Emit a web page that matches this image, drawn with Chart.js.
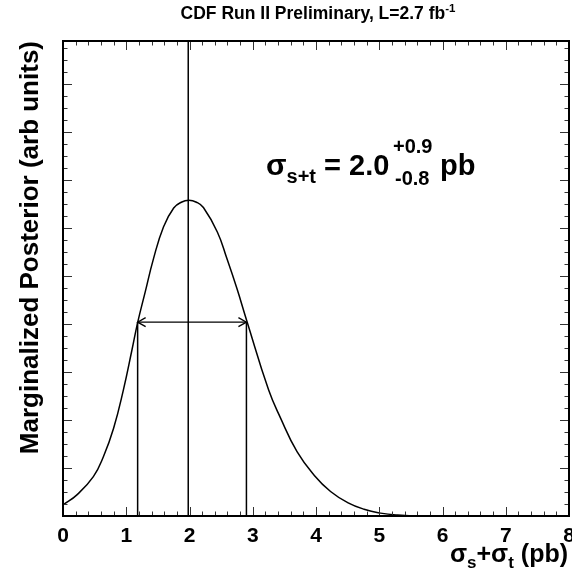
<!DOCTYPE html>
<html>
<head>
<meta charset="utf-8">
<script src="https://cdn.jsdelivr.net/npm/chart.js@4.4.0/dist/chart.umd.min.js"></script>
<style>
  html, body { margin: 0; padding: 0; background: #fff; }
</style>
</head>
<body>
<canvas id="myChart" width="572" height="569"></canvas>
<script>
// posterior curve (x in pb, y in arb units)
const curveX = [0, 0.22, 0.48, 0.64, 0.80, 0.955, 1.09, 1.18, 1.30, 1.43, 1.59, 1.75, 1.87, 1.99,
  2.11, 2.22, 2.44, 2.59, 2.75, 2.91, 3.25, 3.44, 3.70, 3.97, 4.23, 4.50, 4.76, 5.02, 5.29, 5.66, 6.5, 8];
const curveY = [0.023, 0.044, 0.082, 0.124, 0.183, 0.263, 0.346, 0.403, 0.467, 0.536, 0.603, 0.642, 0.654, 0.658,
  0.654, 0.643, 0.592, 0.537, 0.474, 0.405, 0.263, 0.204, 0.134, 0.085, 0.051, 0.028, 0.014, 0.006, 0.002, 0, 0, 0];

const centralValue = 1.98;
const lowEdge = 1.18;
const highEdge = 2.9;
const intervalLevel = 0.404;

const xTicks = [0, 1, 2, 3, 4, 5, 6, 7, 8];
const xTickLabels = ["0", "1", "2", "3", "4", "5", "6", "7", "8"];
const yMajorTicks = [0.1, 0.2, 0.3, 0.4, 0.5, 0.6, 0.7, 0.8, 0.9];

const FONT = '"Liberation Sans", Arial, Helvetica, sans-serif';

function richText(ctx, x, y, parts) {
  let cx = x;
  parts.forEach(([t, size, dy]) => {
    ctx.font = `bold ${size}px ${FONT}`;
    ctx.fillText(t, cx, y + dy);
    cx += ctx.measureText(t).width;
  });
  return cx;
}

function richWidth(ctx, parts) {
  let w = 0;
  parts.forEach(([t, size]) => {
    ctx.font = `bold ${size}px ${FONT}`;
    w += ctx.measureText(t).width;
  });
  return w;
}

// frame, inside ticks, labels and texts
const rootStyle = {
  id: "rootStyle",
  afterDraw(chart) {
    const { ctx, chartArea: a } = chart;
    const xs = chart.scales.x, ys = chart.scales.y;
    ctx.save();

    // ticks on all four sides
    ctx.strokeStyle = "#333";
    ctx.lineWidth = 1;
    ctx.beginPath();
    for (let i = 0; i <= 40; i++) {
      const v = i * 0.2;
      const px = Math.round(xs.getPixelForValue(v)) + 0.5;
      const len = i % 5 === 0 ? 9 : 4.5;
      ctx.moveTo(px, a.bottom); ctx.lineTo(px, a.bottom - len);
      ctx.moveTo(px, a.top); ctx.lineTo(px, a.top + len);
    }
    for (let i = 1; i <= 39; i++) {
      const v = i * 0.025;
      const py = Math.round(ys.getPixelForValue(v)) + 0.5;
      const major = yMajorTicks.some((t) => Math.abs(t - v) < 1e-6);
      const len = major ? 9 : 4.5;
      ctx.moveTo(a.left, py); ctx.lineTo(a.left + len, py);
      ctx.moveTo(a.right, py); ctx.lineTo(a.right - len, py);
    }
    ctx.stroke();

    // frame
    ctx.strokeStyle = "#000";
    ctx.lineWidth = 2;
    ctx.strokeRect(a.left, a.top, a.right - a.left, a.bottom - a.top);

    // arrow heads of the interval
    const yl = ys.getPixelForValue(intervalLevel);
    const xl = xs.getPixelForValue(lowEdge);
    const xh = xs.getPixelForValue(highEdge);
    ctx.lineWidth = 1.3;
    ctx.beginPath();
    ctx.moveTo(xl + 8, yl - 4.5); ctx.lineTo(xl, yl); ctx.lineTo(xl + 8, yl + 4.5);
    ctx.moveTo(xh - 8, yl - 4.5); ctx.lineTo(xh, yl); ctx.lineTo(xh - 8, yl + 4.5);
    ctx.stroke();

    ctx.fillStyle = "#000";
    ctx.textBaseline = "alphabetic";

    // x tick labels
    ctx.font = `bold 21px ${FONT}`;
    ctx.textAlign = "center";
    xTicks.forEach((v, i) => {
      ctx.fillText(xTickLabels[i], xs.getPixelForValue(v), 542);
    });

    ctx.textAlign = "left";
    // title
    const titleParts = [["CDF Run II Preliminary, L=2.7 fb", 17.5, 0], ["-1", 11.5, -7]];
    const tw = richWidth(ctx, titleParts);
    richText(ctx, 318 - tw / 2, 19, titleParts);

    // x axis title, right aligned
    const xtParts = [["\u03c3", 25, 0], ["s", 17, 6], ["+\u03c3", 25, 0], ["t", 17, 6], [" (pb)", 25, 0]];
    const xw = richWidth(ctx, xtParts);
    richText(ctx, 568 - xw, 562, xtParts);

    // result annotation
    richText(ctx, 266, 175, [["\u03c3", 30, 0], ["s+t", 20, 8], [" = 2.0", 29, 0]]);
    richText(ctx, 393, 153, [["+0.9", 20, 0]]);
    richText(ctx, 395, 185, [["-0.8", 20, 0]]);
    richText(ctx, 440, 175, [["pb", 29, 0]]);

    // y axis title
    ctx.translate(38, 41);
    ctx.rotate(-Math.PI / 2);
    ctx.textAlign = "right";
    ctx.font = `bold 26px ${FONT}`;
    ctx.fillText("Marginalized Posterior (arb units)", 0, 0);

    ctx.restore();
  },
};

const line = (pts, w) => ({
  data: pts,
  borderColor: "#000",
  borderWidth: w,
  pointRadius: 0,
  fill: false,
});

const curve = line(curveX.map((x, i) => ({ x: x, y: curveY[i] })), 1.5);
curve.tension = 0.45;

const data = {
  datasets: [
    curve,
    line([{ x: centralValue, y: 0 }, { x: centralValue, y: 0.99 }], 1.5),
    line([{ x: lowEdge, y: 0 }, { x: lowEdge, y: intervalLevel }], 1.5),
    line([{ x: highEdge, y: 0 }, { x: highEdge, y: intervalLevel }], 1.5),
    line([{ x: lowEdge, y: intervalLevel }, { x: highEdge, y: intervalLevel }], 1.3),
  ],
};

const options = {
  responsive: false,
  animation: false,
  layout: { padding: { left: 63, top: 41, right: 3, bottom: 53 } },
  scales: {
    x: { type: "linear", min: 0, max: 8, display: false },
    y: { type: "linear", min: 0, max: 0.99, display: false },
  },
  plugins: {
    legend: { display: false },
    tooltip: { enabled: false },
  },
};

const ctx = document.getElementById("myChart").getContext("2d");
const posteriorChart = new Chart(ctx, {
  type: "line",
  data: data,
  options: options,
  plugins: [rootStyle],
});
</script>
</body>
</html>
